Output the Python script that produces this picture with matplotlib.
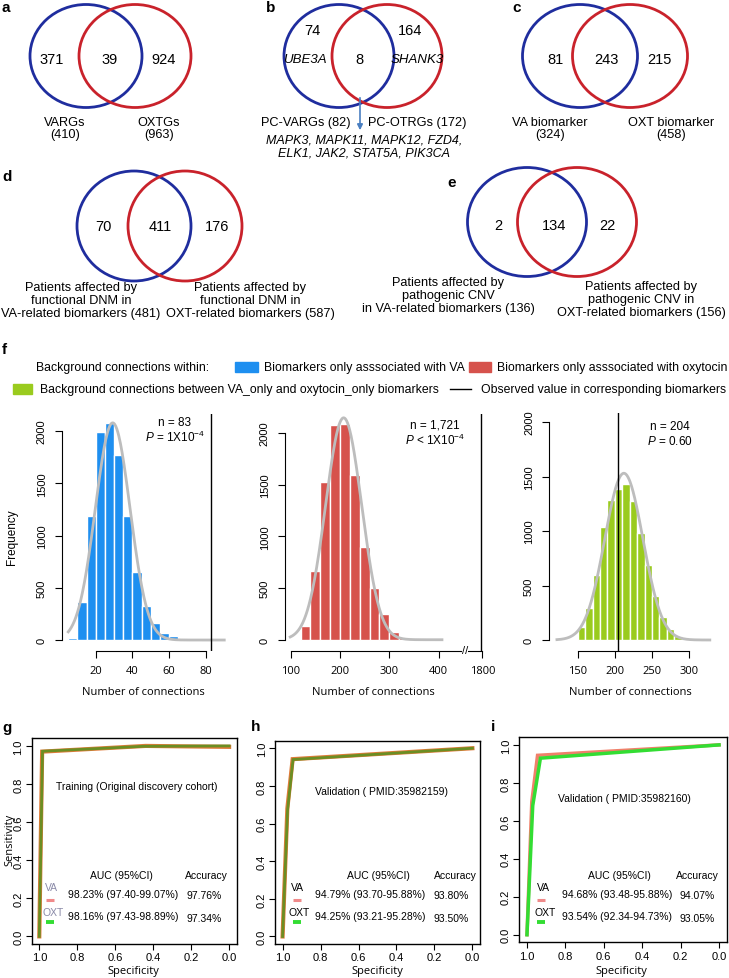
import numpy as np
import matplotlib
matplotlib.use('Agg')
import matplotlib.pyplot as plt
from matplotlib.patches import Ellipse, Rectangle

plt.rcParams['font.family'] = ['Liberation Sans', 'DejaVu Sans']
plt.rcParams['mathtext.fontset'] = 'custom'
plt.rcParams['mathtext.rm'] = 'Liberation Sans'
plt.rcParams['mathtext.it'] = 'Liberation Sans:italic'

W, H = 729, 979
HUMAN = ['Open Sans', 'DejaVu Sans']
BLUE_C, RED_C = '#1f2d9e', '#c9222b'

# ---------------- data ----------------
# venn counts: left only, overlap, right only
venn_a = [371, 39, 924]
venn_b = [74, 8, 164]
venn_c = [81, 243, 215]
venn_d = [70, 411, 176]
venn_e = [2, 134, 22]
venn_a_names = ['VARGs\n(410)', 'OXTGs\n(963)']
venn_b_names = ['PC-VARGs (82)', 'PC-OTRGs (172)']
venn_c_names = ['VA biomarker\n(324)', 'OXT biomarker\n(458)']
venn_d_names = ['Patients affected by\nfunctional DNM in\nVA-related biomarkers (481)',
                'Patients affected by\nfunctional DNM in\nOXT-related biomarkers (587)']
venn_e_names = ['Patients affected by\npathogenic CNV\nin VA-related biomarkers (136)',
                'Patients affected by\npathogenic CNV in\nOXT-related biomarkers (156)']
shared_genes = 'MAPK3, MAPK11, MAPK12, FZD4,\nELK1, JAK2, STAT5A, PIK3CA'

# permutation histograms
va_start, va_width = 5, 5
va_counts = [20, 365, 1185, 1990, 2075, 1775, 1185, 655, 330, 165, 70, 35]
oxt_start, oxt_width = 100, 20
oxt_counts = [10, 135, 666, 1524, 2074, 2090, 1595, 897, 505, 248, 77, 26]
both_start, both_width = 150, 10
both_counts = [120, 290, 601, 1037, 1288, 1383, 1436, 1273, 982, 684, 408, 215, 100, 40]
observed = [83, 1721, 204]
n_labels = ['n = 83', 'n = 1,721', 'n = 204']
p_labels = [r'$P$ = 1X10$^{-4}$', r'$P$ < 1X10$^{-4}$', r'$P$ = 0.60']

# ROC curves (specificity, sensitivity)
g_va = ([1.0, 0.985, 0.44, 0.0], [0.0, 0.970, 1.0, 0.995])
g_oxt = ([1.0, 0.983, 0.45, 0.0], [0.0, 0.972, 0.998, 1.0])
h_va = ([1.0, 0.975, 0.947, 0.0], [0.0, 0.68, 0.942, 1.0])
h_oxt = ([1.0, 0.974, 0.945, 0.0], [0.0, 0.67, 0.940, 1.0])
i_va = ([1.0, 0.975, 0.945, 0.0], [0.0, 0.70, 0.945, 1.0])
i_oxt = ([1.0, 0.970, 0.930, 0.0], [0.0, 0.68, 0.930, 1.0])
roc_titles = ['Training (Original discovery cohort)', 'Validation ( PMID:35982159)',
              'Validation ( PMID:35982160)']
auc_va = ['98.23% (97.40-99.07%)', '94.79% (93.70-95.88%)', '94.68% (93.48-95.88%)']
auc_oxt = ['98.16% (97.43-98.89%)', '94.25% (93.21-95.28%)', '93.54% (92.34-94.73%)']
acc_va = ['97.76%', '93.80%', '94.07%']
acc_oxt = ['97.34%', '93.50%', '93.05%']

fig = plt.figure(figsize=(W / 100, H / 100), dpi=100)


def px_axes(l, t, r, b):
    return fig.add_axes([l / W, 1 - b / H, (r - l) / W, (b - t) / H])


bg = px_axes(0, 0, W, H)
bg.set_xlim(0, W)
bg.set_ylim(H, 0)
bg.axis('off')


def label(x, y, s):
    bg.text(x, y, s, fontsize=11, fontweight='bold', ha='left', va='center')


def venn(cx1, cx2, cy, w, h, counts, xs, ys):
    bg.add_patch(Ellipse((cx1, cy), w, h, fill=False, ec=BLUE_C, lw=2))
    bg.add_patch(Ellipse((cx2, cy), w, h, fill=False, ec=RED_C, lw=2))
    for x, y, v in zip(xs, ys, counts):
        bg.text(x, y, str(v), fontsize=10.5, ha='center', va='center')


def vtext(x, y, s, size=9.2, **kw):
    bg.text(x, y, s, fontsize=size, ha='center', va='center', linespacing=1.1, **kw)


# ---- a ----
label(2, 8, 'a')
venn(86, 135, 57, 112, 103, venn_a, [52, 110, 164], [60, 60, 60])
vtext(65, 129, venn_a_names[0])
vtext(159, 129, venn_a_names[1])
# ---- b ----
label(266, 8, 'b')
venn(339, 387, 57, 110, 103, venn_b, [312, 359, 410], [31, 60, 31])
vtext(305, 60, 'UBE3A', size=9.5, style='italic')
vtext(417, 60, 'SHANK3', size=9.5, style='italic')
vtext(306, 123, venn_b_names[0])
vtext(417, 123, venn_b_names[1])
bg.annotate('', xy=(360, 134), xytext=(360, 96),
            arrowprops=dict(arrowstyle='-|>', color='#4a7fc1', lw=1.2, mutation_scale=8))
vtext(364, 147, shared_genes, size=9, style='italic')
# ---- c ----
label(512, 8, 'c')
venn(580, 630, 57, 115, 103, venn_c, [556, 606, 659], [60, 60, 60])
vtext(550, 129, venn_c_names[0])
vtext(671, 129, venn_c_names[1])
# ---- d ----
label(2, 177, 'd')
venn(134, 185, 227, 114, 110, venn_d, [103, 160, 217], [227, 227, 227])
vtext(81, 301, venn_d_names[0])
vtext(250, 301, venn_d_names[1])
# ---- e ----
label(447, 183, 'e')
venn(527, 577, 223, 119, 109, venn_e, [498, 554, 607], [226, 226, 226])
vtext(448, 296, venn_e_names[0])
vtext(641, 300, venn_e_names[1])

# ---- f legend ----
label(2, 350, 'f')
LEG = dict(fontsize=8.8, va='center', ha='left')
bg.text(36, 368, 'Background connections within:', **LEG)
bg.add_patch(Rectangle((235, 363), 23, 10, color='#1e8ff0'))
bg.text(264, 368, 'Biomarkers only asssociated with VA', **LEG)
bg.add_patch(Rectangle((469, 363), 22, 10, color='#d6524c'))
bg.text(497, 368, 'Biomarkers only asssociated with oxytocin', **LEG)
bg.add_patch(Rectangle((13, 385), 19, 10, color='#9acb1e'))
bg.text(40, 390, 'Background connections between VA_only and oxytocin_only biomarkers', **LEG)
bg.plot([450, 471], [390, 390], color='black', lw=1)
bg.text(481, 390, 'Observed value in corresponding biomarkers', **LEG)


def squash(v):
    # oxytocin panel has a broken x axis, values past the break are pulled in
    return v if v <= 420 else 489 + (v - 1800) * 0.045


def hist_panel(rect, xlim, ylim, start, width, counts, color, obs, curve_to, xticks, xlabels):
    ax = px_axes(*rect)
    ax.set_facecolor('none')
    counts = np.array(counts, dtype=float)
    left = start + width * np.arange(len(counts))
    ax.bar(left, counts, width=width, align='edge', color=color, edgecolor='white', lw=1)
    centers = left + width / 2
    n = counts.sum()
    mu = (centers * counts).sum() / n
    sd = np.sqrt(((centers - mu) ** 2 * counts).sum() / n)
    xs = np.linspace(curve_to[0], curve_to[1], 300)
    ys = n * width * np.exp(-0.5 * ((xs - mu) / sd) ** 2) / (sd * np.sqrt(2 * np.pi))
    ax.plot(xs, ys, color='#bdbdbd', lw=2)
    ax.axvline(obs, color='black', lw=1)
    ax.set_xlim(*xlim)
    ax.set_ylim(*ylim)
    for s in ['top', 'right']:
        ax.spines[s].set_visible(False)
    ax.spines['left'].set_bounds(0, 2000)
    ax.spines['bottom'].set_bounds(xticks[0], xticks[-1])
    ax.set_yticks([0, 500, 1000, 1500, 2000])
    ax.set_yticklabels(['0', '500', '1000', '1500', '2000'], rotation=90, va='center', fontsize=8)
    ax.set_xticks(xticks)
    ax.set_xticklabels(xlabels, fontsize=8, family=HUMAN)
    ax.tick_params(axis='y', length=5, width=0.8, pad=6)
    ax.tick_params(axis='x', length=5, width=0.8, pad=5)
    return ax


ax1 = hist_panel((62, 415, 230.5, 652), (1.6, 93.4), (-105, 2163), va_start, va_width,
                 va_counts, '#1e8ff0', observed[0], (5, 90), [20, 40, 60, 80],
                 ['20', '40', '60', '80'])
ax2 = hist_panel((285, 415, 487, 652), (88.4, 498.4), (-109, 2184), oxt_start, oxt_width,
                 oxt_counts, '#d6524c', squash(observed[1]), (99, 407),
                 [100, 200, 300, 400, squash(1800)], ['100', '200', '300', '400', '1800'])
ax3 = hist_panel((549.3, 414, 717, 652), (111.7, 337.7), (-101, 2083), both_start, both_width,
                 both_counts, '#9acb1e', observed[2], (122, 328), [150, 200, 250, 300],
                 ['150', '200', '250', '300'])
ax2.text(465, 651, '//', transform=bg.transData, fontsize=8, ha='center', va='center',
         clip_on=False, bbox=dict(fc='white', ec='none', pad=0.2))

bg.text(12, 537, 'Frequency', rotation=90, fontsize=8.5, ha='center', va='center')
for x in [143, 373, 630]:
    bg.text(x, 693, 'Number of connections', fontsize=8, family=HUMAN, ha='center', va='center')
for x, y, nl, pl in zip([175, 435, 670], [423, 426, 427], n_labels, p_labels):
    bg.text(x, y, nl, fontsize=8.5, ha='center', va='center')
    bg.text(x, y + 14.5, pl, fontsize=8.5, ha='center', va='center')

# ---- ROC panels ----
roc_rects = [(31.7, 739.3, 236.7, 945), (275, 741.7, 480, 945), (519.3, 738.3, 726.7, 943.3)]
roc_curves = [(g_va, g_oxt), (h_va, h_oxt), (i_va, i_oxt)]
roc_styles = [('#e07b39', '#6b8e23'), ('#e07b39', '#6b8e23'), ('#f0806a', '#33dd33')]
for k, (rect, (va, oxt), (cva, coxt)) in enumerate(zip(roc_rects, roc_curves, roc_styles)):
    ax = px_axes(*rect)
    ax.set_facecolor('none')
    ax.plot(va[0], va[1], color=cva, lw=3 if k < 2 else 2.5, solid_joinstyle='miter')
    ax.plot(oxt[0], oxt[1], color=coxt, lw=2 if k < 2 else 2.5, solid_joinstyle='miter')
    ax.set_xlim(1.04, -0.04)
    ax.set_ylim(-0.04, 1.04)
    ticks = [0.0, 0.2, 0.4, 0.6, 0.8, 1.0]
    ax.set_xticks(ticks)
    ax.set_xticklabels([f'{t:.1f}' for t in ticks], fontsize=8)
    ax.set_yticks(ticks)
    ax.set_yticklabels([f'{t:.1f}' for t in ticks], fontsize=8, rotation=90, va='center')
    ax.tick_params(length=4, width=0.8, pad=2)
    for s in ax.spines.values():
        s.set_linewidth(1)

roc_x = [31.7, 275, 519.3]
title_pos = [(137, 787), (382, 792), (624, 799)]
auc_x = [(121, 123, 206, 204), (378, 370, 455, 451), (619, 617, 697, 697)]
lab_x = [(51, 50), (297, 297), (543, 541)]
lab_col = ['#8a8aa8', 'black', 'black']
ROC = dict(fontsize=7.5, ha='center', va='center')
for k in range(3):
    bg.text(*title_pos[k], roc_titles[k], **ROC)
    hx, vx, ax_, vx2 = auc_x[k]
    bg.text(hx, 876, 'AUC (95%CI)', **ROC)
    bg.text(ax_, 876, 'Accuracy', **ROC)
    bg.text(vx, 895.5, auc_va[k], **ROC)
    bg.text(vx2, 896.5, acc_va[k], **ROC)
    bg.text(vx, 917.5, auc_oxt[k], **ROC)
    bg.text(vx2, 919, acc_oxt[k], **ROC)
    lx, dx = lab_x[k]
    bg.text(lx, 888, 'VA', fontsize=7.5, ha='center', va='center', color=lab_col[k])
    bg.text(lx + 2, 913, 'OXT', fontsize=7.5, ha='center', va='center', color=lab_col[k])
    bg.plot([dx - 4, dx + 4], [900.5, 900.5], color='#f08a8a', lw=2.2, solid_capstyle='butt')
    bg.plot([dx - 4, dx + 4], [923, 923], color='#33dd33', lw=2.8, solid_capstyle='butt')
    bg.text(roc_x[k] + 102, 972, 'Specificity', fontsize=8, family=HUMAN, ha='center', va='center')

bg.text(9.5, 840, 'Sensitivity', rotation=90, fontsize=8, family=HUMAN, ha='center', va='center')
label(2, 728, 'g')
label(251, 727, 'h')
label(491, 727, 'i')

fig.savefig('out.png', dpi=100)
